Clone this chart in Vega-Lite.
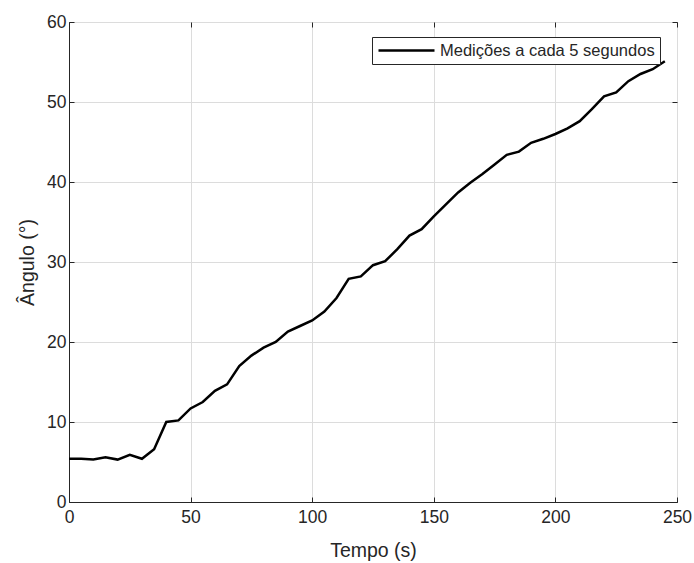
{
  "$schema": "https://vega.github.io/schema/vega-lite/v6.json",
  "autosize": {"type": "none"},
  "padding": {"left": 69, "top": 22, "right": 17, "bottom": 61},
  "width": 608,
  "height": 480,
  "background": "#ffffff",
  "config": {
    "font": "Liberation Sans",
    "view": {"stroke": "#262626", "strokeWidth": 1}
  },
  "data": {
    "values": [
      {"t": 0, "v": 5.4, "s": "Medições a cada 5 segundos"},
      {"t": 5, "v": 5.4, "s": "Medições a cada 5 segundos"},
      {"t": 10, "v": 5.3, "s": "Medições a cada 5 segundos"},
      {"t": 15, "v": 5.6, "s": "Medições a cada 5 segundos"},
      {"t": 20, "v": 5.3, "s": "Medições a cada 5 segundos"},
      {"t": 25, "v": 5.9, "s": "Medições a cada 5 segundos"},
      {"t": 30, "v": 5.4, "s": "Medições a cada 5 segundos"},
      {"t": 35, "v": 6.6, "s": "Medições a cada 5 segundos"},
      {"t": 40, "v": 10.0, "s": "Medições a cada 5 segundos"},
      {"t": 45, "v": 10.2, "s": "Medições a cada 5 segundos"},
      {"t": 50, "v": 11.7, "s": "Medições a cada 5 segundos"},
      {"t": 55, "v": 12.5, "s": "Medições a cada 5 segundos"},
      {"t": 60, "v": 13.9, "s": "Medições a cada 5 segundos"},
      {"t": 65, "v": 14.7, "s": "Medições a cada 5 segundos"},
      {"t": 70, "v": 17.0, "s": "Medições a cada 5 segundos"},
      {"t": 75, "v": 18.3, "s": "Medições a cada 5 segundos"},
      {"t": 80, "v": 19.3, "s": "Medições a cada 5 segundos"},
      {"t": 85, "v": 20.0, "s": "Medições a cada 5 segundos"},
      {"t": 90, "v": 21.3, "s": "Medições a cada 5 segundos"},
      {"t": 95, "v": 22.0, "s": "Medições a cada 5 segundos"},
      {"t": 100, "v": 22.7, "s": "Medições a cada 5 segundos"},
      {"t": 105, "v": 23.8, "s": "Medições a cada 5 segundos"},
      {"t": 110, "v": 25.5, "s": "Medições a cada 5 segundos"},
      {"t": 115, "v": 27.9, "s": "Medições a cada 5 segundos"},
      {"t": 120, "v": 28.2, "s": "Medições a cada 5 segundos"},
      {"t": 125, "v": 29.6, "s": "Medições a cada 5 segundos"},
      {"t": 130, "v": 30.1, "s": "Medições a cada 5 segundos"},
      {"t": 135, "v": 31.6, "s": "Medições a cada 5 segundos"},
      {"t": 140, "v": 33.3, "s": "Medições a cada 5 segundos"},
      {"t": 145, "v": 34.1, "s": "Medições a cada 5 segundos"},
      {"t": 150, "v": 35.7, "s": "Medições a cada 5 segundos"},
      {"t": 155, "v": 37.2, "s": "Medições a cada 5 segundos"},
      {"t": 160, "v": 38.7, "s": "Medições a cada 5 segundos"},
      {"t": 165, "v": 39.9, "s": "Medições a cada 5 segundos"},
      {"t": 170, "v": 41.0, "s": "Medições a cada 5 segundos"},
      {"t": 175, "v": 42.2, "s": "Medições a cada 5 segundos"},
      {"t": 180, "v": 43.4, "s": "Medições a cada 5 segundos"},
      {"t": 185, "v": 43.8, "s": "Medições a cada 5 segundos"},
      {"t": 190, "v": 44.9, "s": "Medições a cada 5 segundos"},
      {"t": 195, "v": 45.4, "s": "Medições a cada 5 segundos"},
      {"t": 200, "v": 46.0, "s": "Medições a cada 5 segundos"},
      {"t": 205, "v": 46.7, "s": "Medições a cada 5 segundos"},
      {"t": 210, "v": 47.6, "s": "Medições a cada 5 segundos"},
      {"t": 215, "v": 49.1, "s": "Medições a cada 5 segundos"},
      {"t": 220, "v": 50.7, "s": "Medições a cada 5 segundos"},
      {"t": 225, "v": 51.2, "s": "Medições a cada 5 segundos"},
      {"t": 230, "v": 52.6, "s": "Medições a cada 5 segundos"},
      {"t": 235, "v": 53.5, "s": "Medições a cada 5 segundos"},
      {"t": 240, "v": 54.1, "s": "Medições a cada 5 segundos"},
      {"t": 245, "v": 55.1, "s": "Medições a cada 5 segundos"}
    ]
  },
  "resolve": {"axis": {"x": "independent", "y": "independent"}},
  "layer": [
    {
      "mark": {"type": "line", "opacity": 0},
      "encoding": {
        "x": {"field": "t", "type": "quantitative",
          "scale": {"domain": [0, 250], "nice": false, "zero": false},
          "axis": {"orient": "top", "values": [0, 50, 100, 150, 200, 250], "labels": false, "grid": false, "domain": false, "title": null, "tickSize": -5, "tickColor": "#262626"}},
        "y": {"field": "v", "type": "quantitative",
          "scale": {"domain": [0, 60], "nice": false, "zero": false},
          "axis": {"orient": "right", "values": [0, 10, 20, 30, 40, 50, 60], "labels": false, "grid": false, "domain": false, "title": null, "tickSize": -5, "tickColor": "#262626"}}
      }
    },
    {
      "mark": {"type": "line", "strokeWidth": 2.5, "interpolate": "linear"},
      "encoding": {
        "x": {"field": "t", "type": "quantitative",
          "scale": {"domain": [0, 250], "nice": false, "zero": false},
          "axis": {"orient": "bottom", "values": [0, 50, 100, 150, 200, 250], "title": "Tempo (s)",
            "grid": true, "gridColor": "#dcdcdc", "gridWidth": 1, "labelFlush": false,
            "domainColor": "#262626", "tickColor": "#262626", "tickSize": -5,
            "labelFont": "Liberation Sans", "labelFontSize": 17.5, "labelColor": "#262626", "labelPadding": 11,
            "titleFont": "Liberation Sans", "titleFontSize": 19.5, "titleFontWeight": "normal", "titleColor": "#262626",
            "titleBaseline": "alphabetic", "titleY": 54.5, "titleX": 304}},
        "y": {"field": "v", "type": "quantitative",
          "scale": {"domain": [0, 60], "nice": false, "zero": false},
          "axis": {"orient": "left", "values": [0, 10, 20, 30, 40, 50, 60], "title": "Ângulo (°)",
            "grid": true, "gridColor": "#dcdcdc", "gridWidth": 1, "labelFlush": false,
            "domainColor": "#262626", "tickColor": "#262626", "tickSize": -5,
            "labelFont": "Liberation Sans", "labelFontSize": 17.5, "labelColor": "#262626", "labelPadding": 8,
            "titleFont": "Liberation Sans", "titleFontSize": 19.5, "titleFontWeight": "normal", "titleColor": "#262626",
            "titleBaseline": "alphabetic", "titleAngle": -90, "titleX": -36, "titleY": 240, "titleAlign": "center"}},
        "color": {"field": "s", "type": "nominal",
          "scale": {"range": ["#000000"]},
          "legend": {"title": null, "orient": "none", "legendX": 303, "legendY": 15,
            "symbolType": "stroke", "symbolSize": 3136, "symbolStrokeWidth": 2.5, "symbolStrokeColor": "#000000",
            "labelFont": "Liberation Sans", "labelFontSize": 16.5, "labelColor": "#262626", "labelOffset": 4, "labelLimit": 0,
            "clipHeight": 17,
            "strokeColor": "#262626", "fillColor": "#ffffff", "padding": 5, "cornerRadius": 0}}
      }
    }
  ]
}
